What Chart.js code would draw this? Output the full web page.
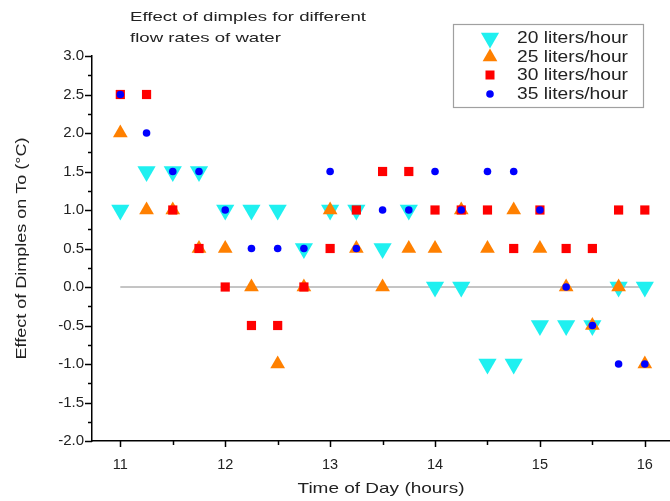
<!DOCTYPE html>
<html>
<head>
<meta charset="utf-8">
<script src="https://cdn.jsdelivr.net/npm/chart.js@4/dist/chart.umd.min.js"></script>
<style>
  html, body { margin: 0; padding: 0; background: #fff; }
  #wrap { width: 670px; height: 501px; position: relative; }
</style>
</head>
<body>
<div id="wrap"><canvas id="c" width="670" height="501"></canvas></div>
<script>
// ---- data ----
const times = [11, 11.25, 11.5, 11.75, 12, 12.25, 12.5, 12.75, 13, 13.25, 13.5, 13.75, 14, 14.25, 14.5, 14.75, 15, 15.25, 15.5, 15.75, 16];
const flow20 = [1.0, 1.5, 1.5, 1.5, 1.0, 1.0, 1.0, 0.5, 1.0, 1.0, 0.5, 1.0, 0.0, 0.0, -1.0, -1.0, -0.5, -0.5, -0.5, 0.0, 0.0];
const flow25 = [2.0, 1.0, 1.0, 0.5, 0.5, 0.0, -1.0, 0.0, 1.0, 0.5, 0.0, 0.5, 0.5, 1.0, 0.5, 1.0, 0.5, 0.0, -0.5, 0.0, -1.0];
const flow30 = [2.5, 2.5, 1.0, 0.5, 0.0, -0.5, -0.5, 0.0, 0.5, 1.0, 1.5, 1.5, 1.0, 1.0, 1.0, 0.5, 1.0, 0.5, 0.5, 1.0, 1.0];
const flow35 = [2.5, 2.0, 1.5, 1.5, 1.0, 0.5, 0.5, 0.5, 1.5, 0.5, 1.0, 1.0, 1.5, 1.0, 1.5, 1.5, 1.0, 0.0, -0.5, -1.0, -1.0];
const zeroLineX = [11, 16];
const seriesLabels = ['20 liters/hour', '25 liters/hour', '30 liters/hour', '35 liters/hour'];
const xTickValues = [11, 12, 13, 14, 15, 16];
const yTickValues = [-2.0, -1.5, -1.0, -0.5, 0.0, 0.5, 1.0, 1.5, 2.0, 2.5, 3.0];
const titleLines = ['Effect of dimples for different', 'flow rates of water'];
const xTitle = 'Time of Day (hours)';
const yTitle = 'Effect of Dimples on To (\u00B0C)';

const FONT = 'Arial, "Liberation Sans", sans-serif';
const TXT = '#222';
const colors = ['#1ff0f0', '#ff8000', '#ff0000', '#0000ff'];
const toPts = arr => arr.map((v, i) => ({ x: times[i], y: v }));

const styles = [
  { pointStyle: 'triangle', rotation: 180, radius: 10.5 },
  { pointStyle: 'triangle', rotation: 0, radius: 8.5 },
  { pointStyle: 'rect', rotation: 0, radius: 6.5 },
  { pointStyle: 'circle', rotation: 0, radius: 3.8 }
];
const seriesData = [flow20, flow25, flow30, flow35];

const datasets = seriesData.map((d, i) => ({
  label: seriesLabels[i],
  data: toPts(d),
  showLine: false,
  pointStyle: styles[i].pointStyle,
  pointRotation: styles[i].rotation,
  pointRadius: styles[i].radius,
  pointHoverRadius: styles[i].radius,
  pointBackgroundColor: colors[i],
  pointBorderWidth: 0,
  pointBorderColor: colors[i],
  order: 4 - i
}));
datasets.push({
  type: 'line',
  label: 'zero',
  data: zeroLineX.map(x => ({ x: x, y: 0 })),
  borderColor: '#8a8a8a',
  borderWidth: 1,
  pointRadius: 0,
  order: 10
});

// draw text stretched horizontally to a target width
function wideText(ctx, text, x, y, font, targetW, align) {
  ctx.font = font;
  const w = ctx.measureText(text).width;
  const sx = targetW / w;
  ctx.save();
  ctx.translate(x, y);
  ctx.scale(sx, 1);
  ctx.textAlign = 'left';
  const x0 = align === 'center' ? -w / 2 : 0;
  ctx.fillText(text, x0, 0);
  ctx.restore();
  return sx;
}

const decor = {
  id: 'decor',
  afterDraw(chart) {
    const ctx = chart.ctx;
    const xs = chart.scales.x, ys = chart.scales.y;
    const ca = chart.chartArea;
    ctx.save();
    ctx.strokeStyle = '#000';
    ctx.lineWidth = 1.5;
    // y ticks (major at 0.5, minor at 0.25)
    for (let k = -8; k <= 12; k++) {
      const v = k * 0.25;
      const py = Math.round(ys.getPixelForValue(v)) + 0.5;
      const len = (k % 2 === 0) ? 7 : 4;
      ctx.beginPath(); ctx.moveTo(ca.left, py); ctx.lineTo(ca.left - len, py); ctx.stroke();
    }
    // x ticks (major at integer, minor at half)
    for (let k = 22; k <= 32; k++) {
      const v = k * 0.5;
      const px = Math.round(xs.getPixelForValue(v)) + 0.5;
      const len = (k % 2 === 0) ? 6 : 4;
      ctx.beginPath(); ctx.moveTo(px, ca.bottom); ctx.lineTo(px, ca.bottom + len); ctx.stroke();
    }
    ctx.fillStyle = TXT;
    ctx.textBaseline = 'middle';
    // chart title
    const sT = wideText(ctx, titleLines[0], 130, 17, '13px ' + FONT, 236, 'left');
    ctx.save(); ctx.translate(130, 38); ctx.scale(sT, 1); ctx.fillText(titleLines[1], 0, 0); ctx.restore();
    // axis titles
    wideText(ctx, xTitle, (ca.left + ca.right) / 2, 489, '15px ' + FONT, 167, 'center');
    ctx.save();
    ctx.translate(22, (ca.top + ca.bottom) / 2);
    ctx.rotate(-Math.PI / 2);
    wideText(ctx, yTitle, 0, 0, '15px ' + FONT, 222, 'center');
    ctx.restore();
    // legend
    ctx.fillStyle = '#fff';
    ctx.fillRect(453, 24, 190, 83);
    ctx.strokeStyle = '#a0a0a0';
    ctx.lineWidth = 1.2;
    ctx.strokeRect(453.5, 24.5, 190, 83);
    const rows = [38, 57, 75, 94];
    const mx = 490;
    let sL = null;
    for (let i = 0; i < 4; i++) {
      const y = rows[i];
      ctx.fillStyle = colors[i];
      ctx.beginPath();
      if (i === 0) {
        const r = 10.5;
        ctx.moveTo(mx - r * 0.866, y - r / 2); ctx.lineTo(mx + r * 0.866, y - r / 2); ctx.lineTo(mx, y + r);
        ctx.closePath(); ctx.fill();
      } else if (i === 1) {
        const r = 8.5;
        ctx.moveTo(mx - r * 0.866, y + r / 2); ctx.lineTo(mx + r * 0.866, y + r / 2); ctx.lineTo(mx, y - r);
        ctx.closePath(); ctx.fill();
      } else if (i === 2) {
        ctx.fillRect(mx - 4.5, y - 4.5, 9, 9);
      } else {
        ctx.arc(mx, y, 3.8, 0, Math.PI * 2); ctx.fill();
      }
      ctx.fillStyle = TXT;
      ctx.textBaseline = 'middle';
      if (sL === null) {
        sL = wideText(ctx, seriesLabels[i], 517, y + 1, '16px ' + FONT, 111, 'left');
      } else {
        ctx.font = '16px ' + FONT;
        ctx.save(); ctx.translate(517, y + 1); ctx.scale(sL, 1); ctx.fillText(seriesLabels[i], 0, 0); ctx.restore();
      }
    }
    ctx.restore();
  }
};

new Chart(document.getElementById('c'), {
  type: 'scatter',
  data: { datasets: datasets },
  options: {
    responsive: false,
    animation: false,
    devicePixelRatio: 1,
    layout: { autoPadding: false, padding: { top: 56, right: 0, left: 0, bottom: 0 } },
    plugins: { legend: { display: false }, tooltip: { enabled: false }, title: { display: false } },
    scales: {
      x: {
        type: 'linear',
        min: 10.73, max: 16.24,
        afterBuildTicks: s => { s.ticks = xTickValues.map(v => ({ value: v })); },
        afterFit: s => { s.height = 60; s.paddingLeft = 0; s.paddingRight = 0; },
        grid: { display: false, drawTicks: false },
        border: { display: true, color: '#000', width: 1.5 },
        ticks: { color: TXT, font: { family: FONT, size: 14.5 }, padding: 15, maxRotation: 0, autoSkip: false,
                 callback: v => String(v) },
        title: { display: false }
      },
      y: {
        type: 'linear',
        min: -2, max: 3,
        afterBuildTicks: s => { s.ticks = yTickValues.map(v => ({ value: v })); },
        afterFit: s => { s.width = 92; s.paddingTop = 0; s.paddingBottom = 0; },
        grid: { display: false, drawTicks: false },
        border: { display: true, color: '#000', width: 1.5 },
        ticks: { color: TXT, font: { family: FONT, size: 15 }, padding: 8, autoSkip: false,
                 callback: v => Number(v).toFixed(1) },
        title: { display: false }
      }
    }
  },
  plugins: [decor]
});
</script>
</body>
</html>
